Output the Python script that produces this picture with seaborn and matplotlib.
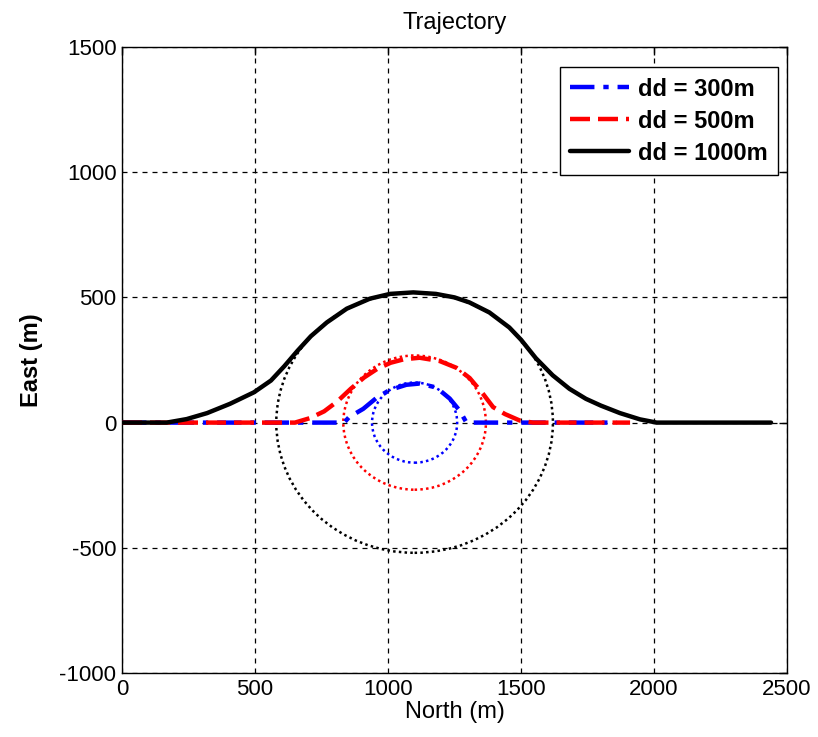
import matplotlib
matplotlib.use("Agg")
import matplotlib.pyplot as plt
from matplotlib.patches import Circle
import seaborn as sns
import pandas as pd

# ---- data ----
labels = ["dd = 300m", "dd = 500m", "dd = 1000m"]
colors = ["blue", "red", "black"]

blue_x = [0, 835, 854, 907, 956, 1006, 1069, 1119, 1182, 1232, 1270, 1295, 1860]
blue_y = [0, 0, 22, 55, 98, 130, 151, 156, 140, 96, 47, 0, 0]

red_x = [0, 650, 707, 760, 810, 860, 910, 960, 1010, 1060, 1119, 1194, 1257, 1307, 1357, 1395,
         1440, 1496, 1545, 1910]
red_y = [0, 0, 18, 45, 85, 135, 180, 215, 239, 253, 259, 246, 219, 178, 115, 62,
         34, 8, 0, 0]

black_x = [0, 168, 243, 320, 406, 496, 560, 610, 660, 710, 770, 845, 932, 1008, 1095, 1180,
           1250, 1306, 1381, 1456, 1500, 1556, 1619, 1682, 1744, 1800, 1872, 1947, 2010, 2440]
black_y = [0, 0, 14, 38, 75, 121, 168, 225, 287, 345, 400, 455, 495, 514, 520, 514,
           500, 480, 440, 380, 331, 257, 189, 135, 95, 68, 38, 13, 0, 0]

circle_cx = [1100, 1100, 1100]
circle_cy = [0, 0, 0]
circle_r = [160, 268, 520]

x_ticks = [0, 500, 1000, 1500, 2000, 2500]
y_ticks = [-1000, -500, 0, 500, 1000, 1500]

# ---- figure ----
sns.set_theme(style="white")
plt.rcParams["font.family"] = ["Liberation Sans", "DejaVu Sans"]
plt.rcParams["axes.unicode_minus"] = False
plt.rcParams["text.color"] = "black"
plt.rcParams["axes.labelcolor"] = "black"

fig = plt.figure(figsize=(8.18, 7.37), dpi=100)
ax = fig.add_axes([122 / 818, 64 / 737, 665 / 818, 626 / 737])

series = [(blue_x, blue_y), (red_x, red_y), (black_x, black_y)]
styles = [(0, (5.5, 2, 1.2, 2)), (0, (4.5, 1.8)), "-"]
for (xs, ys), lab, col, ls in zip(series, labels, colors, styles):
    df = pd.DataFrame({"North": xs, "East": ys})
    sns.lineplot(data=df, x="North", y="East", sort=False, estimator=None,
                 color=col, linewidth=3.2, linestyle=ls, label=lab, ax=ax, zorder=3)

for cx, cy, r, col in zip(circle_cx, circle_cy, circle_r, colors):
    ax.add_patch(Circle((cx, cy), r, fill=False, edgecolor=col, linewidth=1.8,
                        linestyle=(0, (1, 1.3)), zorder=2))

ax.set_xlim(0, 2500)
ax.set_ylim(-1000, 1500)
ax.set_xticks(x_ticks)
ax.set_yticks(y_ticks)
ax.tick_params(direction="in", length=6, width=1, top=True, right=True,
               labelsize=16, colors="black", pad=4)
ax.grid(True, color="black", linestyle=(0, (4, 4)), linewidth=0.9)
for s in ax.spines.values():
    s.set_color("black")
    s.set_linewidth(1.0)

ax.set_title("Trajectory", fontsize=17, pad=13, color="black")
ax.set_xlabel("North (m)", fontsize=17, labelpad=1)
ax.set_ylabel("East (m)", fontsize=17, fontweight="bold", labelpad=12)

leg = ax.legend(loc="upper right", bbox_to_anchor=(0.9865, 0.968), borderaxespad=0,
                prop={"size": 17, "weight": "bold"}, fancybox=False, framealpha=1,
                edgecolor="black", handlelength=2.5, labelspacing=0.38,
                handletextpad=0.35, borderpad=0.45)
leg.get_frame().set_linewidth(1.0)

fig.savefig("out.png", dpi=100)
